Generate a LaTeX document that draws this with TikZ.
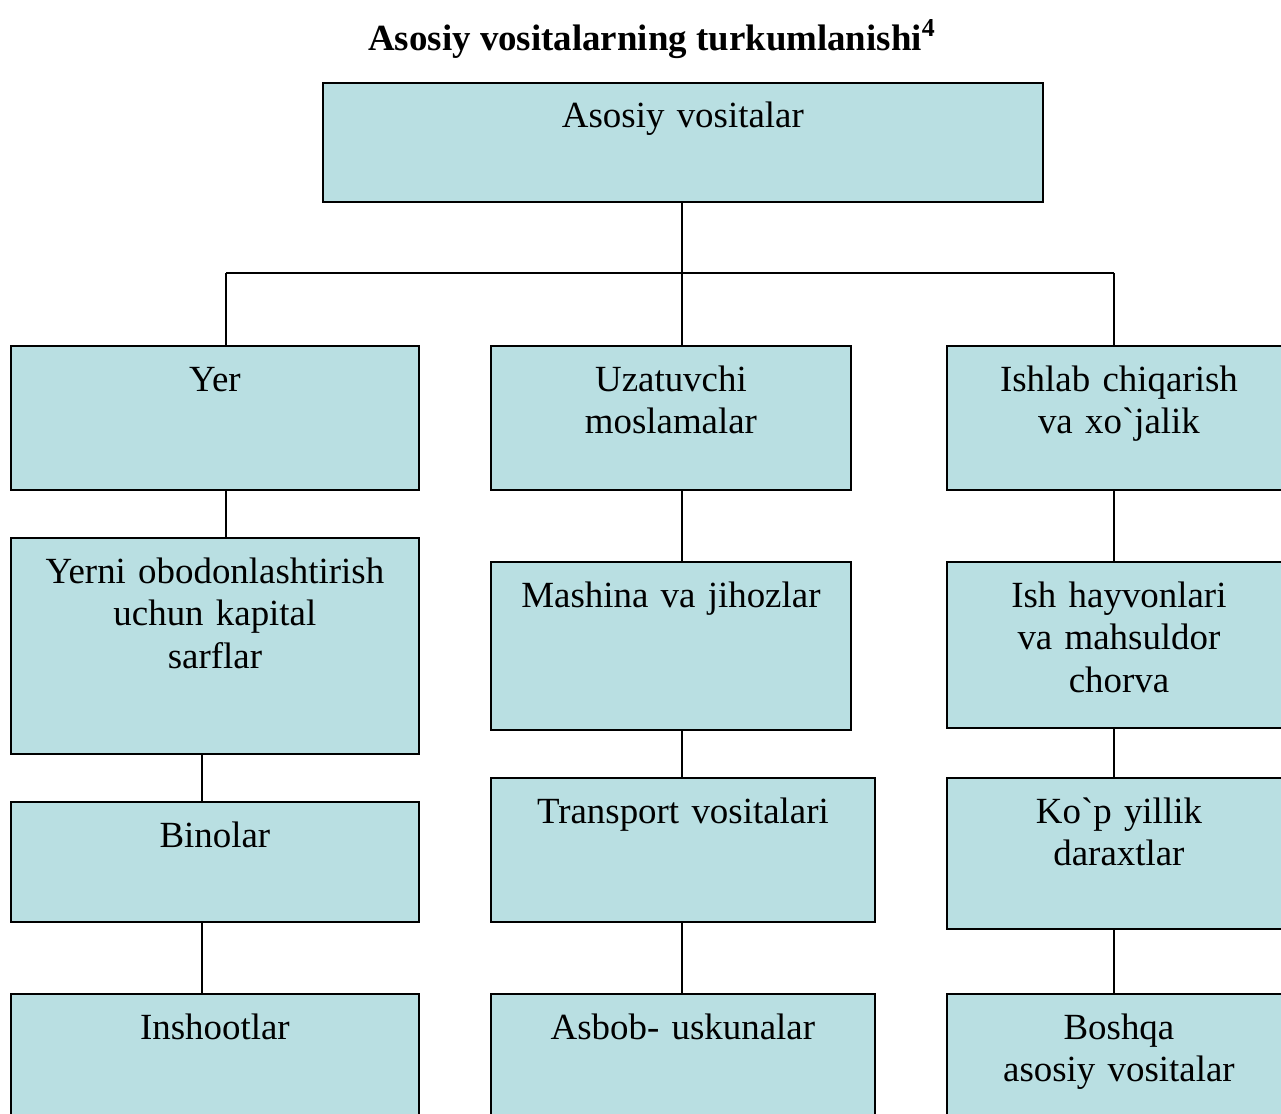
\documentclass[tikz,border=0pt]{standalone}
\usepackage{fontspec}
\setmainfont{Liberation Serif}
\definecolor{boxfill}{HTML}{B9DFE2}
\tikzset{
  box/.style={draw, fill=boxfill, line width=1.1pt, anchor=north west, inner sep=0pt},
  lbl/.style={draw=none, fill=none, anchor=base, yshift=-0.92cm, minimum width=0pt,
    minimum height=0pt, text width=8cm, align=center, inner sep=0pt,
    font=\fontsize{21}{24.4}\selectfont},
  boxtxt/.style={label={[lbl]north:{#1}}},
  link/.style={line width=0.8pt}
}
\begin{document}
\begin{tikzpicture}[x=0.02cm, y=-0.02cm]
  \useasboundingbox (0,0) rectangle (1281,1113);
  \node[anchor=base, font=\fontsize{21}{24}\selectfont\bfseries] (title) at (652,50)
    {Asosiy vositalarning turkumlanishi\textsuperscript{4}};

  \node[box, minimum width=14.4cm, minimum height=2.38cm, boxtxt={Asosiy vositalar}] (top) at (322,82) {};

  \node[box, minimum width=8.16cm, minimum height=2.88cm, boxtxt={Yer}] (yer) at (10,345) {};
  \node[box, minimum width=7.2cm, minimum height=2.88cm, boxtxt={Uzatuvchi\\moslamalar}] (uzat) at (490,345) {};
  \node[box, minimum width=6.88cm, minimum height=2.88cm, boxtxt={Ishlab chiqarish\\va xo\textasciigrave jalik}] (ishlab) at (946,345) {};

  \node[box, minimum width=8.16cm, minimum height=4.32cm, boxtxt={Yerni obodonlashtirish\\uchun kapital\\sarflar}] (yerni) at (10,537) {};
  \node[box, minimum width=7.2cm, minimum height=3.36cm, boxtxt={Mashina va jihozlar}] (mash) at (490,561) {};
  \node[box, minimum width=6.88cm, minimum height=3.32cm, boxtxt={Ish hayvonlari\\va mahsuldor\\chorva}] (hayv) at (946,561) {};

  \node[box, minimum width=8.16cm, minimum height=2.4cm, boxtxt={Binolar}] (bino) at (10,801) {};
  \node[box, minimum width=7.68cm, minimum height=2.88cm, boxtxt={Transport vositalari}] (trans) at (490,777) {};
  \node[box, minimum width=6.88cm, minimum height=3.02cm, boxtxt={Ko\textasciigrave p yillik\\daraxtlar}] (kop) at (946,777) {};

  \node[box, minimum width=8.16cm, minimum height=2.8cm, boxtxt={Inshootlar}] (insh) at (10,993) {};
  \node[box, minimum width=7.68cm, minimum height=2.8cm, boxtxt={Asbob- uskunalar}] (asbob) at (490,993) {};
  \node[box, minimum width=6.88cm, minimum height=2.8cm, boxtxt={Boshqa\\asosiy vositalar}] (boshqa) at (946,993) {};

  % bus under the top box
  \coordinate (busL) at (226,273);
  \coordinate (busM) at (682,273);
  \coordinate (busR) at (1114,273);
  \coordinate (colL) at (202,0);

  \draw[link] (top.south -| busM) -- (busM);
  \draw[link] (busL) -- (busR);
  \draw[link] (busL) -- (busL |- yer.north);
  \draw[link] (busM) -- (busM |- uzat.north);
  \draw[link] (busR) -- (busR |- ishlab.north);

  \draw[link] (yer.south -| busL) -- (yerni.north -| busL);
  \draw[link] (yerni.south -| colL) -- (bino.north -| colL);
  \draw[link] (bino.south -| colL) -- (insh.north -| colL);

  \draw[link] (uzat.south -| busM) -- (mash.north -| busM);
  \draw[link] (mash.south -| busM) -- (trans.north -| busM);
  \draw[link] (trans.south -| busM) -- (asbob.north -| busM);

  \draw[link] (ishlab.south -| busR) -- (hayv.north -| busR);
  \draw[link] (hayv.south -| busR) -- (kop.north -| busR);
  \draw[link] (kop.south -| busR) -- (boshqa.north -| busR);
\end{tikzpicture}
\end{document}
